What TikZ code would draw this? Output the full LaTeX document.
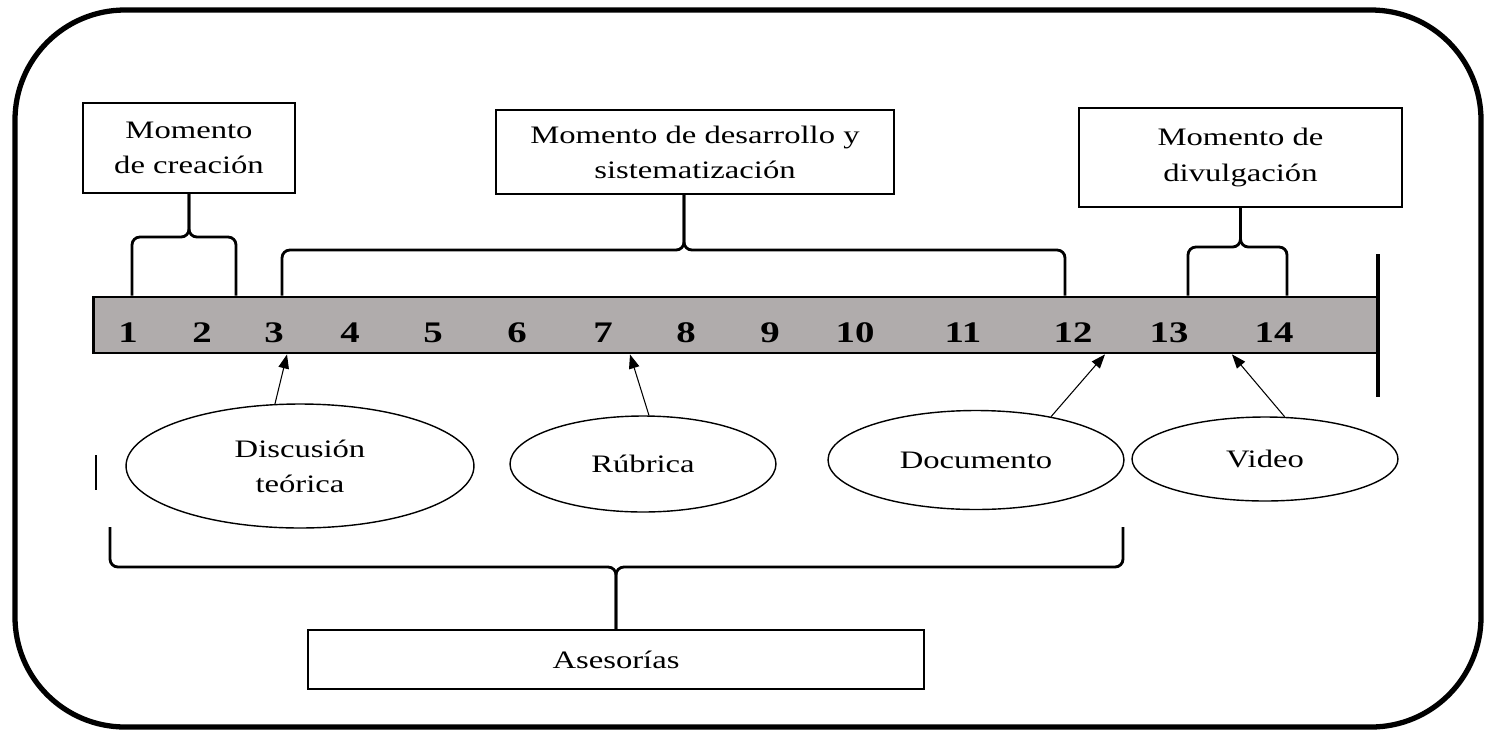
\documentclass[tikz,border=0pt]{standalone}
\usepackage{fontspec}
\setmainfont[FakeStretch=1.3]{Liberation Serif}
\usetikzlibrary{shapes.geometric, arrows.meta, positioning, calc}
\definecolor{barGray}{RGB}{176, 172, 172}

\begin{document}
\begin{tikzpicture}[x=0.02cm, y=-0.02cm,
    phasebox/.style={draw, line width=0.9pt, align=center, inner sep=2pt, font=\fontsize{14.3}{20}\selectfont},
    toolnode/.style={draw, ellipse, line width=0.8pt, align=center, inner sep=1pt, font=\fontsize{14.3}{20}\selectfont},
    daynum/.style={font=\fontsize{17}{17}\selectfont\bfseries},
    bracket/.style={line width=1.6pt, rounded corners=4.5pt},
    pointer/.style={-{Triangle[length=8pt, width=6pt]}, line width=0.6pt}]
  \useasboundingbox (0,0) rectangle (1485,731);
  \draw[line width=3pt, rounded corners=2.2cm] (15,10) rectangle (1481,727);

  % time line
  \node[draw, fill=barGray, line width=1.6pt, minimum width=25.7cm, minimum height=1.12cm, inner sep=0pt] (bar) at (735.5,325) {};
  \foreach \n/\x in {1/128, 2/202, 3/274, 4/350, 5/433, 6/517, 7/603, 8/686, 9/770, 10/855, 11/963, 12/1073, 13/1169, 14/1274}
    \node[daynum] (d\n) at (\x,333) {\n};
  \draw[line width=2pt] (1378,254) -- (1378,397);
  \draw[line width=1pt] (96,455) -- (96,490);

  % moments
  \node[phasebox, minimum width=4.24cm, minimum height=1.8cm] (create) at (189,148) {Momento\\de creación};
  \node[phasebox, minimum width=7.96cm, minimum height=1.68cm] (develop) at (695,152) {Momento de desarrollo y\\sistematización};
  \node[phasebox, minimum width=6.46cm, minimum height=1.98cm] (spread) at (1240.5,157.5) {Momento de\\divulgación};
  \node[phasebox, minimum width=12.32cm, minimum height=1.18cm] (advice) at (616,659.5) {Asesorías};

  \draw[bracket] (132,0 |- bar.north) |- (create.south |- 0,237) -- (create.south);
  \draw[bracket] (236,0 |- bar.north) |- (create.south |- 0,237) -- (create.south);
  \draw[bracket] (282,0 |- bar.north) |- (684,250) -- (684,0 |- develop.south);
  \draw[bracket] (1065,0 |- bar.north) |- (684,250) -- (684,0 |- develop.south);
  \draw[bracket] (1188,0 |- bar.north) |- (spread.south |- 0,247) -- (spread.south);
  \draw[bracket] (1287,0 |- bar.north) |- (spread.south |- 0,247) -- (spread.south);
  \draw[bracket] (110,527) |- (advice.north |- 0,567) -- (advice.north);
  \draw[bracket] (1123,527) |- (advice.north |- 0,567) -- (advice.north);

  % products
  \node[toolnode, minimum width=6.96cm, minimum height=2.48cm] (discuss) at (300,466) {Discusión\\teórica};
  \node[toolnode, minimum width=5.32cm, minimum height=1.92cm] (rubric) at (643,464) {Rúbrica};
  \node[toolnode, minimum width=5.92cm, minimum height=1.98cm] (doc) at (976,460) {Documento};
  \node[toolnode, minimum width=5.32cm, minimum height=1.68cm] (video) at (1265,459) {Video};

  \coordinate (pDiscuss) at (287,0 |- bar.south);
  \coordinate (pRubric) at (630,0 |- bar.south);
  \coordinate (pDoc) at (1105,0 |- bar.south);
  \coordinate (pVideo) at (1232,0 |- bar.south);
  \draw[pointer] (discuss.112) -- (pDiscuss);
  \draw[pointer] (rubric.83) -- (pRubric);
  \draw[pointer] (doc.30) -- (pDoc);
  \draw[pointer] (video.65) -- (pVideo);
\end{tikzpicture}
\end{document}
